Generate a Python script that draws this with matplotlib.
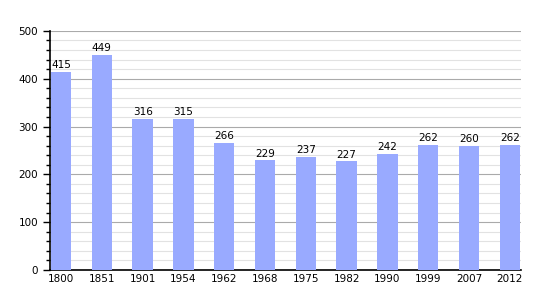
import matplotlib
matplotlib.use("Agg")
import matplotlib.pyplot as plt
from matplotlib.ticker import MultipleLocator

years = ["1800", "1851", "1901", "1954", "1962", "1968", "1975", "1982", "1990", "1999", "2007", "2012"]
population = [415, 449, 316, 315, 266, 229, 237, 227, 242, 262, 260, 262]

fig = plt.figure(figsize=(5.5, 3.0), dpi=100)
ax = fig.add_axes([0.0909, 0.1, 0.856, 0.797])
x = list(range(len(years)))
ax.bar(x, population, width=0.5, color="#99aaff", zorder=3)
for xi, v in zip(x, population):
    ax.text(xi, v + 4, str(v), ha="center", va="bottom", fontsize=7.5, zorder=4)

ax.set_xlim(-0.27, len(years) - 0.73)
ax.set_ylim(0, 500)
ax.set_xticks(x)
ax.set_xticklabels(years, fontsize=7.5)
ax.yaxis.set_major_locator(MultipleLocator(100))
ax.yaxis.set_minor_locator(MultipleLocator(20))
ax.tick_params(axis="y", labelsize=7.5, length=5, width=1)
ax.tick_params(axis="y", which="minor", length=3, width=1)
ax.tick_params(axis="x", length=0, pad=3)
ax.grid(axis="y", which="major", color="#aaaaaa", linewidth=0.8, zorder=1)
ax.grid(axis="y", which="minor", color="#e2e2e2", linewidth=0.8, zorder=0)
for s in ["top", "right"]:
    ax.spines[s].set_visible(False)
ax.spines["left"].set_linewidth(1.2)
ax.spines["bottom"].set_linewidth(1.2)
fig.savefig("out.png", dpi=100)
